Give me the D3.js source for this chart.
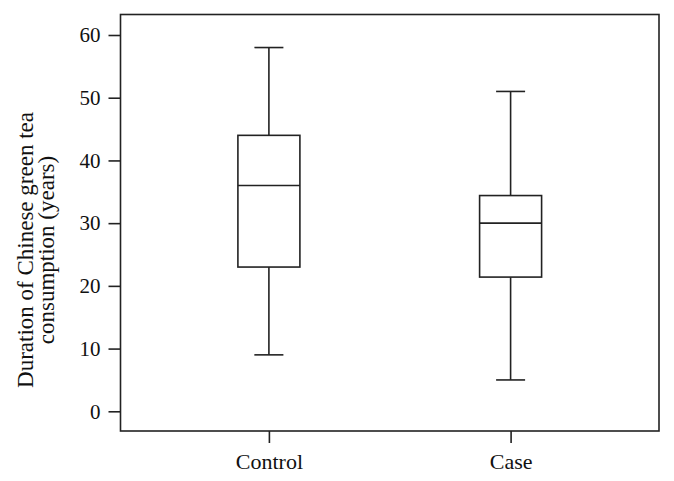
<!DOCTYPE html>
<html>
<head>
<meta charset="utf-8">
<script src="https://cdn.jsdelivr.net/npm/d3@7"></script>
<style>
  html, body { margin: 0; padding: 0; background: #fff; }
  svg { display: block; }
  text { font-family: "Liberation Serif", "DejaVu Serif", serif; fill: #111; }
</style>
</head>
<body>
<svg id="chart" width="674" height="481"></svg>
<script>
const categories = ["Control", "Case"];
const whiskerLow = [9, 5];
const q1 = [23, 21.4];
const median = [36, 30];
const q3 = [44, 34.4];
const whiskerHigh = [58, 51];
const yTicks = [0, 10, 20, 30, 40, 50, 60];
const yLabelLines = ["Duration of Chinese green tea", "consumption (years)"];

(function () {
const svg = d3.select("#chart");
const mLeft = 120.5, mRight = 659, mTop = 14.5, mBottom = 431;

const y = d3.scaleLinear().domain([0, 60]).range([411.3, 35]);
const x = d3.scalePoint().domain(categories).range([mLeft, mRight]).padding(0.614);

const boxW = 62, capW = 29;
const stroke = "#222";

// frame
svg.append("rect")
  .attr("x", mLeft).attr("y", mTop)
  .attr("width", mRight - mLeft).attr("height", mBottom - mTop)
  .attr("fill", "none").attr("stroke", stroke).attr("stroke-width", 1.6);

// y axis
const yAxis = d3.axisLeft(y).tickValues(yTicks).tickSize(12).tickPadding(8);
const gy = svg.append("g").attr("transform", `translate(${mLeft},0)`).call(yAxis);
gy.attr("font-size", null).attr("font-family", null);
gy.select(".domain").remove();
gy.selectAll(".tick line").attr("stroke", stroke).attr("stroke-width", 1.6);
gy.selectAll(".tick text").style("font-family", '"Liberation Serif", serif').style("font-size", "21px").attr("fill", "#111");

// x axis (labels clipped at the bottom, as in the reference)
svg.append("defs").append("clipPath").attr("id", "clipb")
  .append("rect").attr("x", 0).attr("y", -20).attr("width", 674).attr("height", 58.5);
const xAxis = d3.axisBottom(x).tickSize(12).tickPadding(10.4);
const gx = svg.append("g").attr("transform", `translate(0,${mBottom})`)
  .append("g").attr("clip-path", "url(#clipb)").call(xAxis);
gx.attr("font-size", null).attr("font-family", null);
gx.select(".domain").remove();
gx.selectAll(".tick line").attr("stroke", stroke).attr("stroke-width", 1.6);
gx.selectAll(".tick text").style("font-family", '"Liberation Serif", serif').style("font-size", "22px").attr("fill", "#111");

// y label
const yl = svg.append("text")
  .attr("transform", "translate(33,250) rotate(-90)")
  .attr("text-anchor", "middle")
  .style("font-size", "23px");
yl.selectAll("tspan").data(yLabelLines).join("tspan")
  .attr("x", 0).attr("dy", (d, i) => i === 0 ? 0 : 20.5)
  .text(d => d);

// boxes
const data = categories.map((c, i) => ({c, lo: whiskerLow[i], q1: q1[i], med: median[i], q3: q3[i], hi: whiskerHigh[i]}));
const g = svg.append("g").selectAll("g").data(data).join("g");
g.append("line").attr("x1", d => x(d.c)).attr("x2", d => x(d.c))
  .attr("y1", d => y(d.hi)).attr("y2", d => y(d.q3)).attr("stroke", stroke).attr("stroke-width", 1.6);
g.append("line").attr("x1", d => x(d.c)).attr("x2", d => x(d.c))
  .attr("y1", d => y(d.q1)).attr("y2", d => y(d.lo)).attr("stroke", stroke).attr("stroke-width", 1.6);
g.append("line").attr("x1", d => x(d.c) - capW / 2).attr("x2", d => x(d.c) + capW / 2)
  .attr("y1", d => y(d.hi)).attr("y2", d => y(d.hi)).attr("stroke", stroke).attr("stroke-width", 1.6);
g.append("line").attr("x1", d => x(d.c) - capW / 2).attr("x2", d => x(d.c) + capW / 2)
  .attr("y1", d => y(d.lo)).attr("y2", d => y(d.lo)).attr("stroke", stroke).attr("stroke-width", 1.6);
g.append("rect").attr("x", d => x(d.c) - boxW / 2).attr("width", boxW)
  .attr("y", d => y(d.q3)).attr("height", d => y(d.q1) - y(d.q3))
  .attr("fill", "#fff").attr("stroke", stroke).attr("stroke-width", 1.6);
g.append("line").attr("x1", d => x(d.c) - boxW / 2).attr("x2", d => x(d.c) + boxW / 2)
  .attr("y1", d => y(d.med)).attr("y2", d => y(d.med)).attr("stroke", stroke).attr("stroke-width", 1.6);
})();
</script>
</body>
</html>
